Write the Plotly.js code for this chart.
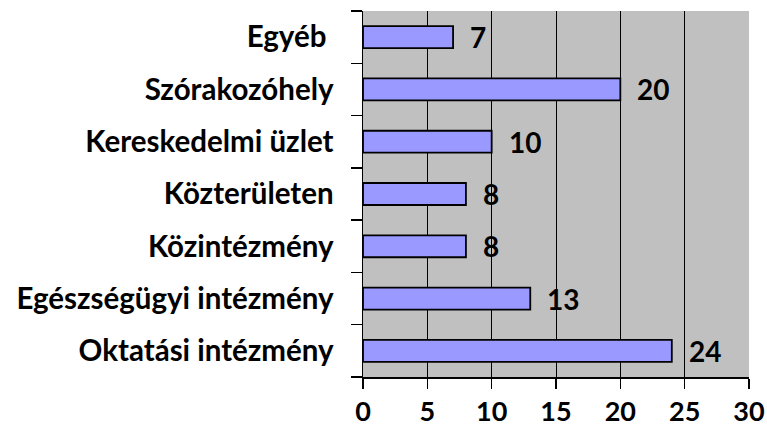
<!DOCTYPE html>
<html><head><meta charset="utf-8">
<script src="https://cdn.plot.ly/plotly-3.0.1.min.js"></script>
<style>html,body{margin:0;padding:0;background:#fff}</style>
</head><body>
<div id="chart" style="width:767px;height:430px"></div>
<script>
const categories = ["Oktatási intézmény", "Egészségügyi intézmény", "Közintézmény", "Közterületen", "Kereskedelmi üzlet", "Szórakozóhely", "Egyéb\u00a0"];
const values = [24, 13, 8, 8, 10, 20, 7];
const xTicks = [0, 5, 10, 15, 20, 25, 30];

const FONT = "Lato, Open Sans, sans-serif";

const trace = {
  type: "bar", orientation: "h",
  x: values, y: categories,
  marker: {color: "#9999FF", line: {color: "#000000", width: 1.8}},
  hoverinfo: "skip"
};

const annotations = values.map((v, i) => ({
  x: v, y: categories[i], xref: "x", yref: "y",
  text: String(v), showarrow: false, xanchor: "left", xshift: 15,
  font: {family: FONT, size: 28, color: "#000", weight: "bold"}
}));

const layout = {
  width: 767, height: 430,
  margin: {l: 363, r: 18, t: 11, b: 53},
  paper_bgcolor: "#ffffff", plot_bgcolor: "#C0C0C0",
  bargap: 0.58, showlegend: false,
  xaxis: {
    range: [0, 30], tickvals: xTicks, ticktext: xTicks.map(String),
    showgrid: true, gridcolor: "#000000", gridwidth: 1,
    showline: true, linecolor: "#000", linewidth: 1.5,
    ticks: "outside", ticklen: 10, tickcolor: "#000", tickwidth: 1.5,
    zeroline: false, ticklabelstandoff: 0,
    tickfont: {family: FONT, size: 27, color: "#000", weight: "bold"},
    fixedrange: true
  },
  yaxis: {
    type: "category", categoryorder: "array", categoryarray: categories,
    showline: true, linecolor: "#000", linewidth: 1.5,
    ticks: "outside", ticklen: 11, tickcolor: "#000", tickwidth: 1.5,
    tickson: "boundaries", showgrid: false,
    ticklabelstandoff: 22,
    tickfont: {family: FONT, size: 29.5, color: "#000", weight: "bold"},
    fixedrange: true
  },
  annotations: annotations
};

Plotly.newPlot("chart", [trace], layout, {displayModeBar: false, staticPlot: true});
</script>
</body></html>
